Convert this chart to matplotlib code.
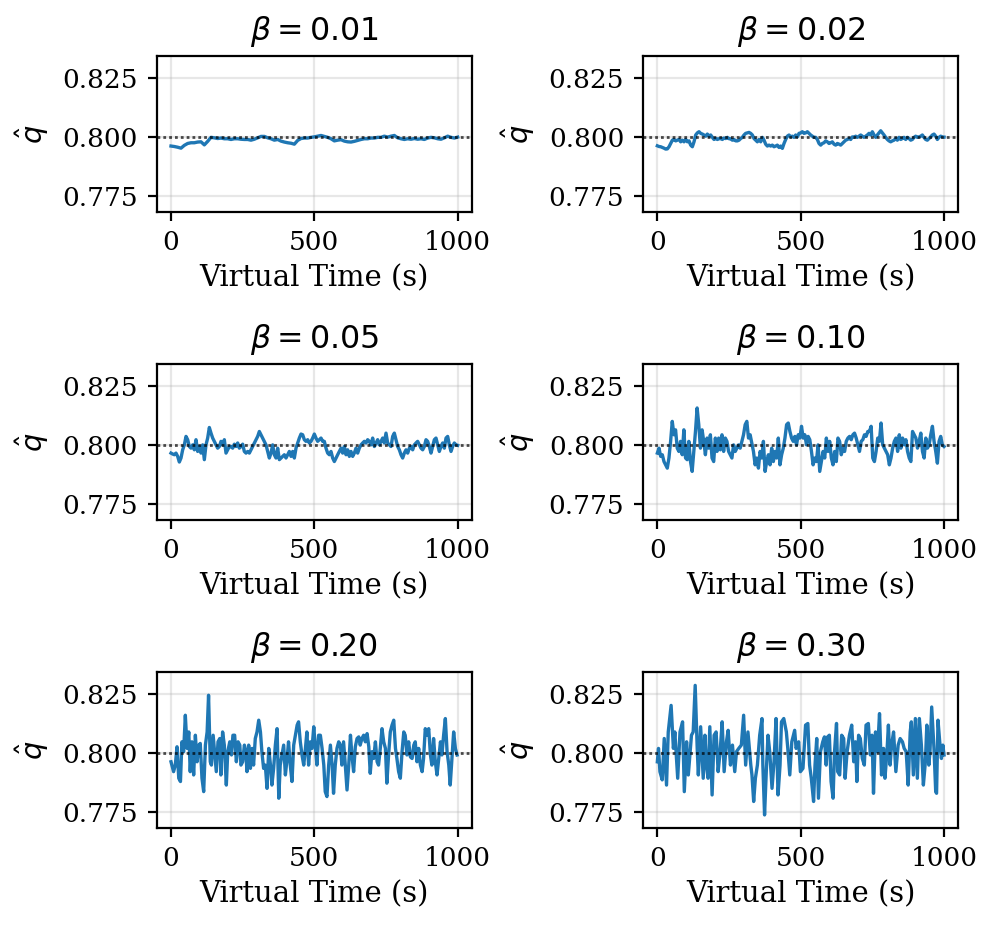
import numpy as np
import matplotlib
matplotlib.use("Agg")
import matplotlib.pyplot as plt

plt.rcParams['font.family'] = ['DejaVu Serif']
plt.rcParams['mathtext.fontset'] = 'dejavusans'
plt.rcParams['font.size'] = 9.5

betas = ["0.01", "0.02", "0.05", "0.10", "0.20", "0.30"]
target_q = 0.8
xticks = [0, 500, 1000]
yticks = [0.775, 0.800, 0.825]

# beta = 0.01 (evenly sampled over 0..1000 s)
q_b001 = [0.7962, 0.7960, 0.7957, 0.7953, 0.7965, 0.7973, 0.7976, 0.7976, 0.7979, 0.7980,
          0.7967, 0.7982, 0.7999, 0.7997, 0.7994, 0.7996, 0.7993, 0.7993, 0.7990, 0.7993,
          0.7993, 0.7991, 0.7990, 0.7990, 0.7987, 0.7991, 0.7997, 0.8003, 0.8003, 0.7997,
          0.7993, 0.7987, 0.7990, 0.7983, 0.7979, 0.7976, 0.7974, 0.7970, 0.7986, 0.7994,
          0.7996, 0.7996, 0.7999, 0.8001, 0.8004, 0.8007, 0.8003, 0.7999, 0.7993, 0.7984,
          0.7987, 0.7989, 0.7983, 0.7980, 0.7979, 0.7982, 0.7986, 0.7990, 0.7993, 0.7993,
          0.7996, 0.7996, 0.7999, 0.7999, 0.8004, 0.8000, 0.8004, 0.8007, 0.7997, 0.7993,
          0.7990, 0.7993, 0.7991, 0.7994, 0.7991, 0.7993, 0.7990, 0.7996, 0.7999, 0.7997,
          0.7993, 0.7991, 0.7997, 0.8004, 0.7999, 0.7996, 0.8000]

# beta = 0.02 (evenly sampled)
q_b002 = [0.7963, 0.7960, 0.7959, 0.7956, 0.7953, 0.7949, 0.7950, 0.7959, 0.7973, 0.7987,
          0.7990, 0.7984, 0.7987, 0.7990, 0.7980, 0.7987, 0.7980, 0.7990, 0.7980, 0.7984,
          0.7966, 0.7959, 0.7980, 0.8009, 0.8018, 0.8023, 0.8016, 0.8013, 0.8009, 0.8004,
          0.8013, 0.8004, 0.8009, 0.7999, 0.7990, 0.7994, 0.7990, 0.7993, 0.7994, 0.7990,
          0.7996, 0.7994, 0.7999, 0.7993, 0.7993, 0.7987, 0.7990, 0.7984, 0.7984, 0.7987,
          0.7994, 0.7999, 0.8009, 0.8016, 0.8018, 0.8020, 0.8016, 0.8009, 0.7994, 0.7987,
          0.7980, 0.7990, 0.7980, 0.7999, 0.7987, 0.7970, 0.7962, 0.7966, 0.7962, 0.7966,
          0.7959, 0.7962, 0.7966, 0.7956, 0.7962, 0.7952, 0.7973, 0.7990, 0.8004, 0.8009,
          0.8001, 0.8004, 0.7999, 0.8009, 0.8001, 0.8016, 0.8018, 0.8023, 0.8016, 0.8018,
          0.8023, 0.8016, 0.8009, 0.8004, 0.7999, 0.7999, 0.7990, 0.7973, 0.7966, 0.7973,
          0.7976, 0.7984, 0.7980, 0.7973, 0.7976, 0.7980, 0.7970, 0.7966, 0.7973, 0.7970,
          0.7966, 0.7973, 0.7980, 0.7987, 0.7990, 0.7994, 0.7990, 0.8001, 0.7999, 0.8004,
          0.7999, 0.8004, 0.8009, 0.8004, 0.7999, 0.8004, 0.8009, 0.8016, 0.8009, 0.8023,
          0.8009, 0.7999, 0.8009, 0.8018, 0.8027, 0.8018, 0.8009, 0.7999, 0.7990, 0.7984,
          0.7980, 0.7984, 0.7987, 0.7994, 0.7987, 0.7999, 0.7990, 0.7994, 0.7999, 0.7990,
          0.7999, 0.7994, 0.7987, 0.7990, 0.7999, 0.8004, 0.7999, 0.8001, 0.8004, 0.8009,
          0.7999, 0.7990, 0.7987, 0.7994, 0.8001, 0.8009, 0.8013, 0.8004, 0.7990, 0.7999,
          0.8004, 0.8001, 0.8000]

# beta = 0.05 (evenly sampled)
q_b005 = [0.7966, 0.7962, 0.7959, 0.7966, 0.7952, 0.7928, 0.7945, 0.7980, 0.8001, 0.8037,
          0.8023, 0.7994, 0.7987, 0.8001, 0.7980, 0.8023, 0.7973, 0.7994, 0.7966, 0.8001,
          0.7938, 0.8001, 0.8030, 0.8075, 0.8051, 0.8030, 0.8016, 0.8001, 0.7987, 0.7994,
          0.8016, 0.8001, 0.8023, 0.7966, 0.7980, 0.7994, 0.7994, 0.7987, 0.8004, 0.7994,
          0.8009, 0.7987, 0.7994, 0.8004, 0.7973, 0.7966, 0.7973, 0.7966, 0.7980, 0.7994,
          0.8009, 0.8023, 0.8037, 0.8058, 0.8044, 0.8030, 0.8016, 0.8001, 0.7973, 0.7945,
          0.7966, 0.8001, 0.7959, 0.7945, 0.7987, 0.7938, 0.7945, 0.7952, 0.7959, 0.7945,
          0.7959, 0.7973, 0.7952, 0.7973, 0.7945, 0.7987, 0.8009, 0.8030, 0.8047, 0.8044,
          0.8023, 0.8016, 0.8023, 0.8009, 0.8016, 0.8030, 0.8047, 0.8030, 0.8016, 0.8023,
          0.8030, 0.8016, 0.8016, 0.7987, 0.7966, 0.7959, 0.7973, 0.7945, 0.7930, 0.7945,
          0.7959, 0.7973, 0.7987, 0.7966, 0.7994, 0.7959, 0.7980, 0.7952, 0.7973, 0.7952,
          0.7966, 0.7987, 0.7966, 0.7987, 0.8001, 0.8009, 0.8016, 0.8009, 0.8023, 0.8016,
          0.8001, 0.8030, 0.7994, 0.8009, 0.8023, 0.8001, 0.8016, 0.8030, 0.8009, 0.8051,
          0.8009, 0.8001, 0.7994, 0.8037, 0.8051, 0.8023, 0.7994, 0.7980, 0.7959, 0.7945,
          0.7966, 0.7980, 0.7966, 0.7987, 0.7994, 0.7980, 0.8001, 0.8009, 0.8016, 0.8001,
          0.7987, 0.7980, 0.7994, 0.8023, 0.8016, 0.7994, 0.7966, 0.7994, 0.8023, 0.8030,
          0.8001, 0.7973, 0.7994, 0.8009, 0.7987, 0.8030, 0.8037, 0.8001, 0.7973, 0.7994,
          0.8009, 0.8001, 0.7999]

# beta = 0.10 (evenly sampled)
q_b010 = [0.7966, 0.7987, 0.7952, 0.7959, 0.7930, 0.7916, 0.7902, 0.7945, 0.8016, 0.8101,
          0.8044, 0.8065, 0.7987, 0.7973, 0.8016, 0.7959, 0.8065, 0.7945, 0.7938, 0.8016,
          0.7930, 0.7888, 0.7973, 0.8058, 0.8158, 0.8087, 0.7987, 0.8065, 0.8016, 0.7959,
          0.8030, 0.7987, 0.8044, 0.7945, 0.7930, 0.8030, 0.7973, 0.8030, 0.7980, 0.8044,
          0.7973, 0.8030, 0.8016, 0.7973, 0.7959, 0.7945, 0.8001, 0.7973, 0.7987, 0.8001,
          0.7987, 0.8016, 0.8044, 0.8087, 0.8101, 0.8030, 0.8044, 0.8009, 0.7973, 0.7916,
          0.7945, 0.7902, 0.7973, 0.7945, 0.8016, 0.7888, 0.7930, 0.7959, 0.7916, 0.7987,
          0.7930, 0.7973, 0.7945, 0.8030, 0.7916, 0.7959, 0.7987, 0.8030, 0.8087, 0.8094,
          0.8058, 0.8030, 0.8016, 0.8037, 0.8001, 0.8044, 0.8030, 0.8080, 0.8030, 0.8044,
          0.8001, 0.8037, 0.8023, 0.7973, 0.7916, 0.7945, 0.7930, 0.8001, 0.7888, 0.7930,
          0.7973, 0.7945, 0.8030, 0.7973, 0.8016, 0.7945, 0.7916, 0.7973, 0.7930, 0.8030,
          0.8016, 0.7959, 0.7987, 0.7973, 0.8016, 0.8030, 0.8037, 0.8023, 0.8044, 0.8051,
          0.8030, 0.8001, 0.7973, 0.8016, 0.8023, 0.8044, 0.8037, 0.8058, 0.8058, 0.8080,
          0.7945, 0.7930, 0.7973, 0.8030, 0.8016, 0.8094, 0.8001, 0.7987, 0.7973, 0.7959,
          0.7916, 0.7945, 0.7987, 0.8016, 0.8030, 0.7973, 0.8044, 0.7987, 0.8030, 0.8001,
          0.8023, 0.7973, 0.7945, 0.7930, 0.8058, 0.8044, 0.8030, 0.7987, 0.8016, 0.8051,
          0.7973, 0.7945, 0.8030, 0.7987, 0.8001, 0.8044, 0.8080, 0.8016, 0.7973, 0.7923,
          0.8016, 0.8037, 0.8001, 0.7994]

# beta = 0.20 (sample times)
t_b020 = [0, 3, 9, 15, 21, 27, 33, 38, 44, 50, 56, 62, 67, 73, 79, 85, 91, 97, 102, 108,
          114, 120, 126, 131, 137, 141, 147, 152, 158, 164, 170, 174, 180, 186, 193, 198,
          205, 211, 216, 222, 228, 234, 240, 244, 250, 256, 261, 265, 271, 277, 283, 288,
          294, 300, 306, 312, 317, 323, 329, 335, 341, 347, 352, 358, 364, 370, 376, 381,
          387, 393, 399, 405, 410, 416, 422, 428, 434, 440, 445, 451, 457, 463, 469, 474,
          480,
          486, 492, 498, 503, 509, 515, 521, 527, 533, 538, 544, 550, 556, 562, 567, 573,
          579, 585, 591, 596, 602, 608, 614, 620, 626, 631, 637, 643, 649, 655, 660, 666,
          672, 678, 684, 690, 695, 701, 707, 713, 719, 724, 730, 736, 742, 748, 753, 759,
          765, 771, 777, 783, 788, 794, 800, 806, 812, 817, 823, 829, 835, 841, 847, 852,
          858, 864, 870, 876, 881, 887, 893, 899, 905, 910, 916, 922, 928, 934, 940, 945,
          951, 957, 963, 969, 974, 980, 986, 992, 998]
q_b020 = [0.7963, 0.7949, 0.7921, 0.7949, 0.8027, 0.7893, 0.7879, 0.8048, 0.8006, 0.8161,
          0.8020, 0.8090, 0.7921, 0.8048, 0.7907, 0.8076, 0.7963, 0.8034, 0.8041, 0.7893,
          0.7836, 0.8034, 0.8090, 0.8246, 0.7963, 0.7949, 0.8076, 0.8006, 0.7921, 0.8048,
          0.8062, 0.7907, 0.8090, 0.8034, 0.7864, 0.8006, 0.8048, 0.7992, 0.8076, 0.8076,
          0.7963, 0.8048, 0.8034, 0.7949, 0.7963, 0.8034, 0.8006, 0.7921, 0.8034, 0.7935,
          0.8020, 0.7949, 0.8062, 0.8090, 0.8140, 0.8090, 0.8006, 0.7935, 0.7949, 0.7850,
          0.8020, 0.7949, 0.7864, 0.7935, 0.8034, 0.8104, 0.7808, 0.7949, 0.7992, 0.8034,
          0.7907, 0.7977, 0.8048, 0.7949, 0.7879, 0.8034, 0.8076, 0.8119, 0.8133, 0.8048,
          0.7992, 0.7949, 0.8020, 0.8090, 0.7949,
          0.8048, 0.8020, 0.8112, 0.8034, 0.7949, 0.8076, 0.8076, 0.8020, 0.7949, 0.7836,
          0.7815, 0.7949, 0.8034, 0.7949, 0.7829, 0.7949, 0.8020, 0.8048, 0.8034, 0.7949,
          0.8048, 0.7949, 0.7843, 0.7949, 0.8076, 0.7992, 0.7921, 0.8027, 0.8062, 0.8069,
          0.8034, 0.8062, 0.8076, 0.8048, 0.8083, 0.8027, 0.7914, 0.8006, 0.7977, 0.8048,
          0.7963, 0.7949, 0.8020, 0.8104, 0.8048, 0.8020, 0.7872, 0.7992, 0.8090, 0.8119,
          0.8140, 0.8020, 0.7977, 0.7921, 0.7893, 0.8006, 0.8090, 0.8076, 0.7992, 0.8048,
          0.7984, 0.7977, 0.8034, 0.8048, 0.7963, 0.8020, 0.7949, 0.7921, 0.7977, 0.8104,
          0.8076, 0.8104, 0.7992, 0.7949, 0.8062, 0.7963, 0.7907, 0.7977, 0.8048, 0.7992,
          0.8076, 0.8147, 0.8006, 0.7949, 0.7864, 0.7977, 0.8090, 0.8020, 0.7992]

# beta = 0.30 (sample times)
t_b030 = [0, 4, 9, 17, 24, 32, 38, 48, 56, 61, 71, 79, 88, 94, 102, 108, 119, 125, 132, 139,
          143, 151, 160, 166, 171, 177, 183, 191, 198, 205, 212, 219, 226, 233, 241, 247,
          255, 262, 270, 276, 284, 293, 301, 308, 316, 326, 330, 336, 342, 349, 357, 365,
          368, 374, 380, 386, 392, 400, 407, 414, 421, 428, 433, 441, 450, 455, 462, 469,
          479, 484, 493, 499, 508, 517, 525, 531, 537, 545, 550, 556, 562, 569, 577, 583,
          589, 594, 600, 606, 613, 618, 625, 629, 636, 643, 650, 655, 662, 670, 678, 685,
          691, 696, 702, 708, 715, 722, 728, 736, 743, 749, 754, 761, 768, 775, 782, 789,
          794, 801, 806, 812, 817, 824, 832, 840, 847, 855, 861, 868, 875, 882, 886, 893,
          900, 907, 914, 921, 928, 935, 940, 947, 951, 957, 965, 971, 974, 979, 985, 991,
          996, 1000]
q_b030 = [0.7963, 0.8020, 0.7921, 0.7886, 0.8062, 0.7864, 0.8090, 0.8203, 0.8020, 0.8090,
          0.7893, 0.8090, 0.8133, 0.7836, 0.8048, 0.7907, 0.8076, 0.8090, 0.8288, 0.8020,
          0.7907, 0.8112, 0.7893, 0.8076, 0.7949, 0.7893, 0.8112, 0.7822, 0.8076, 0.8090,
          0.7921, 0.8006, 0.8133, 0.7921, 0.8048, 0.8097, 0.7949, 0.8034, 0.7921, 0.8006,
          0.8020, 0.8034, 0.8161, 0.7949, 0.8090, 0.7949, 0.7907, 0.7794, 0.7893, 0.7949,
          0.8076, 0.8147, 0.7949, 0.7737, 0.7921, 0.8076, 0.8006, 0.7850, 0.7963, 0.8147,
          0.7822, 0.7949, 0.8133, 0.8147, 0.8090, 0.8020, 0.7907, 0.8048,
          0.8097, 0.8020, 0.8048, 0.7921, 0.7935, 0.8119, 0.8126, 0.7949, 0.7893, 0.7794,
          0.7949, 0.8062, 0.7808, 0.8006, 0.8048, 0.8069, 0.7949, 0.8069, 0.8076, 0.7879,
          0.7808, 0.8006, 0.8126, 0.7921, 0.7907, 0.8076, 0.8062, 0.7893, 0.8006, 0.8076,
          0.8119, 0.7963, 0.8048, 0.7879, 0.8076, 0.8062, 0.7977, 0.7949, 0.8119, 0.8126,
          0.7992, 0.8076, 0.7829, 0.8090, 0.8006, 0.8168, 0.7907, 0.8020, 0.7893, 0.8006,
          0.8119, 0.7949, 0.8034, 0.8090, 0.7921, 0.8034, 0.8062, 0.8048, 0.8020, 0.8006,
          0.7864, 0.8090, 0.8133, 0.7907, 0.8147, 0.7893, 0.8147, 0.8034, 0.7864, 0.7963,
          0.8119, 0.7949, 0.8006, 0.8196, 0.8020, 0.7836, 0.7829, 0.8140, 0.8048, 0.7977,
          0.8034, 0.7992]

series = [
    (np.linspace(0, 1000, len(q_b001)), q_b001),
    (np.linspace(0, 1000, len(q_b002)), q_b002),
    (np.linspace(0, 1000, len(q_b005)), q_b005),
    (np.linspace(0, 1000, len(q_b010)), q_b010),
    (t_b020, q_b020),
    (t_b030, q_b030),
]

fig = plt.figure(figsize=(4.98, 4.63), dpi=200)
lefts = [0.1573, 0.6456]
bottoms = [0.7707, 0.4381, 0.1055]
w, h = 0.3166, 0.1688

for i, (beta, (t, q)) in enumerate(zip(betas, series)):
    r, c = divmod(i, 2)
    ax = fig.add_axes([lefts[c], bottoms[r], w, h])
    ax.plot(t, q, color='#1f77b4', linewidth=1.2)
    ax.axhline(target_q, color='black', linestyle=(0, (1, 1.1)), linewidth=1.0, alpha=0.7)
    ax.set_ylim(0.768, 0.8345)
    ax.set_xlim(-50, 1050)
    ax.set_xticks(xticks)
    ax.set_yticks(yticks)
    ax.set_yticklabels([f"{v:.3f}" for v in yticks])
    ax.tick_params(axis='both', labelsize=9.5, length=3.3)
    ax.tick_params(axis='x', pad=3.0)
    ax.grid(True, alpha=0.3)
    ax.set_title(rf"$\beta = {beta}$", fontsize=11.4, pad=5.7)
    ax.set_xlabel("Virtual Time (s)", fontsize=10.45, labelpad=3.5)
    ax.set_ylabel(r"$\hat{q}$", fontsize=10.45)

fig.savefig("out.png", dpi=200)
